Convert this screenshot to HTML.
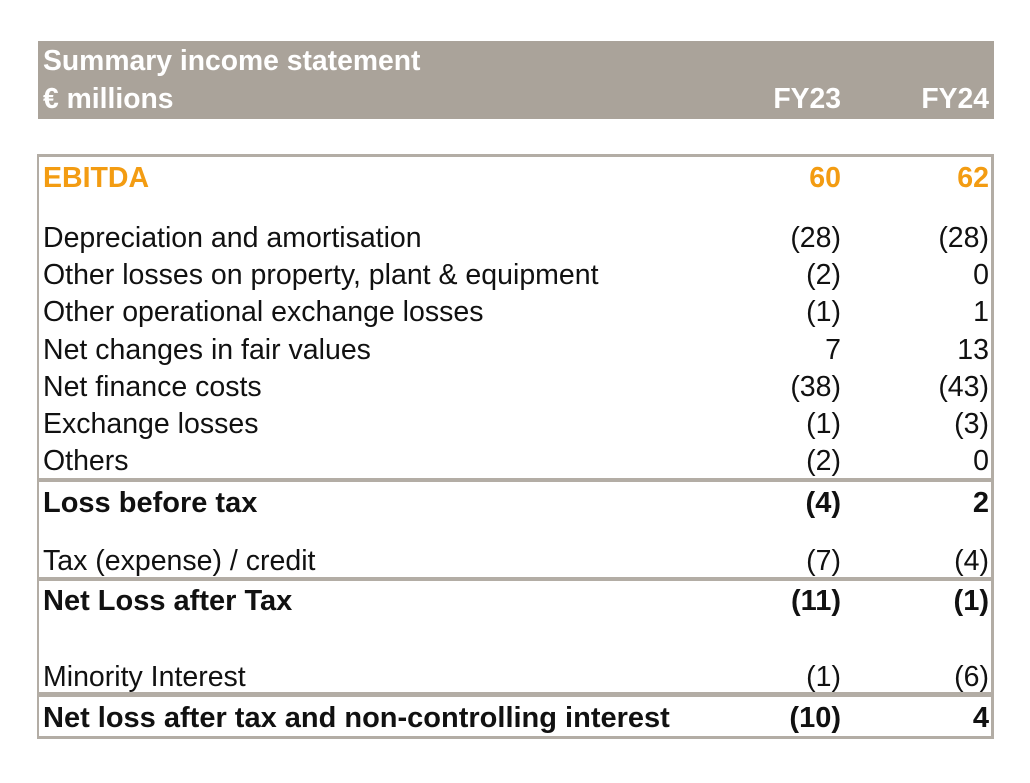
<!DOCTYPE html>
<html><head><meta charset="utf-8"><style>
body{margin:0;width:1030px;height:783px;background:#fff;position:relative;font-family:"Liberation Sans",Arial,sans-serif;overflow:hidden}
.t{position:absolute;font-size:28.5px;line-height:30px;white-space:nowrap;color:#111}
.l{left:43px}
.a{right:189px;text-align:right}
.b{right:41px;text-align:right}
.bd{font-weight:bold;font-size:29px}
.h{color:#fff;font-weight:bold;font-size:28.3px}
.o{color:#f39c12;font-weight:bold}
.bar{position:absolute;background:#b3ada5}
</style></head><body>
<div class="bar" style="left:38px;top:41px;width:956px;height:78px;background:#aaa39a"></div>
<div class="t l h" style="top:45px">Summary income statement</div>
<div class="t l h" style="top:83px">€ millions</div>
<div class="t a h" style="top:83px">FY23</div>
<div class="t b h" style="top:83px">FY24</div>

<div class="bar" style="left:37px;top:154px;width:957px;height:3px"></div>
<div class="bar" style="left:37px;top:154px;width:2px;height:585px"></div>
<div class="bar" style="left:991px;top:154px;width:3px;height:585px"></div>
<div class="bar" style="left:37px;top:736px;width:957px;height:3px"></div>
<div class="bar" style="left:37px;top:478px;width:957px;height:4px"></div>
<div class="bar" style="left:37px;top:577px;width:957px;height:4px"></div>
<div class="bar" style="left:37px;top:692px;width:957px;height:5px"></div>

<div class="t l o" style="top:163px">EBITDA</div>
<div class="t a o" style="top:163px">60</div>
<div class="t b o" style="top:163px">62</div>

<div class="t l" style="top:223px">Depreciation and amortisation</div><div class="t a" style="top:223px">(28)</div><div class="t b" style="top:223px">(28)</div>
<div class="t l" style="top:260px">Other losses on property, plant &amp; equipment</div><div class="t a" style="top:260px">(2)</div><div class="t b" style="top:260px">0</div>
<div class="t l" style="top:297px">Other operational exchange losses</div><div class="t a" style="top:297px">(1)</div><div class="t b" style="top:297px">1</div>
<div class="t l" style="top:335px">Net changes in fair values</div><div class="t a" style="top:335px">7</div><div class="t b" style="top:335px">13</div>
<div class="t l" style="top:372px">Net finance costs</div><div class="t a" style="top:372px">(38)</div><div class="t b" style="top:372px">(43)</div>
<div class="t l" style="top:409px">Exchange losses</div><div class="t a" style="top:409px">(1)</div><div class="t b" style="top:409px">(3)</div>
<div class="t l" style="top:446px">Others</div><div class="t a" style="top:446px">(2)</div><div class="t b" style="top:446px">0</div>
<div class="t l bd" style="top:488px">Loss before tax</div><div class="t a bd" style="top:488px">(4)</div><div class="t b bd" style="top:488px">2</div>
<div class="t l" style="top:546px">Tax (expense) / credit</div><div class="t a" style="top:546px">(7)</div><div class="t b" style="top:546px">(4)</div>
<div class="t l bd" style="top:586px">Net Loss after Tax</div><div class="t a bd" style="top:586px">(11)</div><div class="t b bd" style="top:586px">(1)</div>
<div class="t l" style="top:662px">Minority Interest</div><div class="t a" style="top:662px">(1)</div><div class="t b" style="top:662px">(6)</div>
<div class="t l bd" style="top:703px">Net loss after tax and non-controlling interest</div><div class="t a bd" style="top:703px">(10)</div><div class="t b bd" style="top:703px">4</div>
</body></html>
